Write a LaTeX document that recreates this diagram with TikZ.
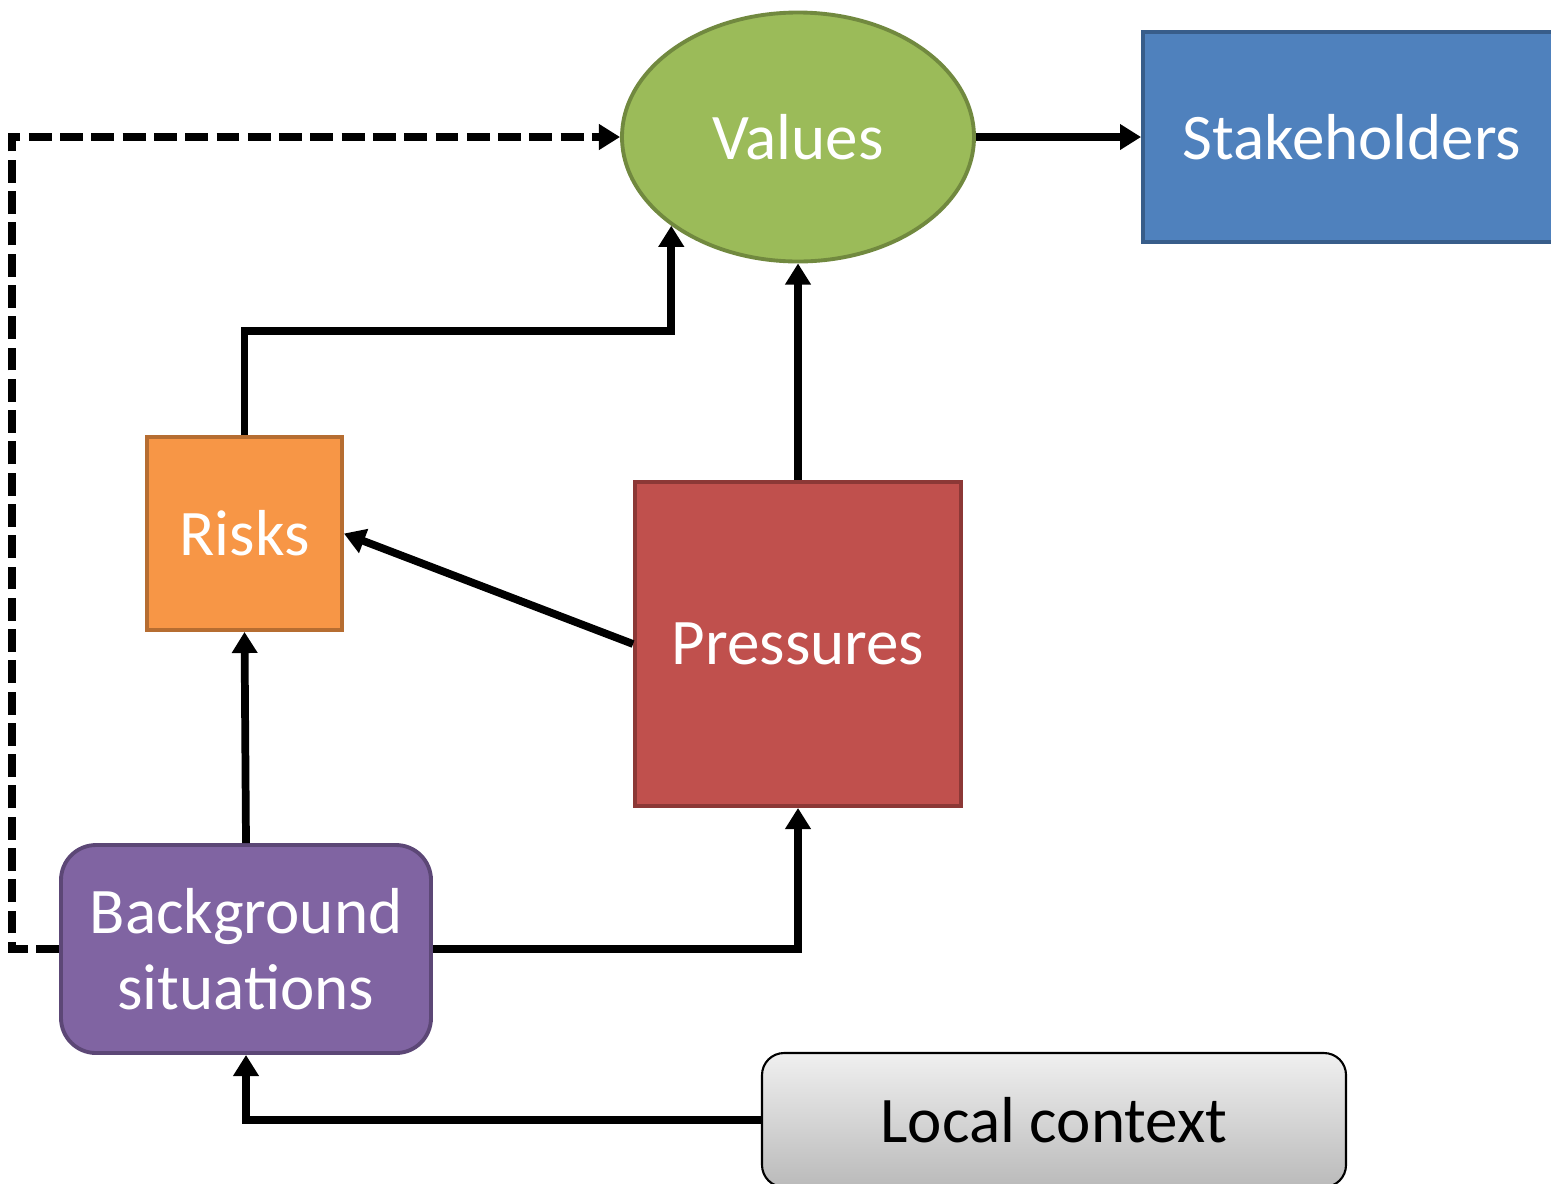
\documentclass[tikz,border=0pt]{standalone}
\usepackage{fontspec}
\setmainfont{Carlito}
\usepackage{tikz}
\usetikzlibrary{arrows.meta,positioning,shapes.geometric}
\definecolor{valuefill}{HTML}{9BBB59}
\definecolor{valueline}{HTML}{71893F}
\definecolor{stakefill}{HTML}{4F81BD}
\definecolor{stakeline}{HTML}{385D8A}
\definecolor{riskfill}{HTML}{F79646}
\definecolor{riskline}{HTML}{B66D31}
\definecolor{pressfill}{HTML}{C0504D}
\definecolor{pressline}{HTML}{8C3836}
\definecolor{backfill}{HTML}{8064A2}
\definecolor{backline}{HTML}{5C4776}
\tikzset{blockbox/.style={draw,rectangle,line width=1.1pt,text=white,align=center},
    valuebubble/.style={draw,ellipse,line width=1.1pt,text=white,fill=valuefill,draw=valueline},
    link/.style={-{Triangle[length=6pt,width=7pt]},line width=2.2pt},
    dashlink/.style={link,dash pattern=on 6.5pt off 2.4pt},
    bigtext/.style={font=\fontsize{18.5}{21.5}\selectfont}
}

\begin{document}
\begin{tikzpicture}[bigtext]

\useasboundingbox (0,0) rectangle (15.51,-11.83);

\node (values) [valuebubble,minimum width=3.52cm,minimum height=2.49cm] at (7.98,-1.37) {Values};
\node (stake) [blockbox,fill=stakefill,draw=stakeline,minimum width=4.18cm,minimum height=2.10cm] at (13.52,-1.37) {Stakeholders};
\node (risks) [blockbox,fill=riskfill,draw=riskline,minimum width=1.95cm,minimum height=1.93cm] at (2.445,-5.335) {Risks};
\node (press) [blockbox,fill=pressfill,draw=pressline,minimum width=3.26cm,minimum height=3.24cm] at (7.98,-6.44) {Pressures};
\node (backg) [blockbox,fill=backfill,draw=backline,rounded corners=0.35cm,minimum width=3.70cm,minimum height=2.08cm] at (2.46,-9.49) {Background\\situations};
\node (local) [draw,rectangle,line width=0.6pt,rounded corners=0.22cm,top color=black!6,bottom color=black!27,minimum width=5.84cm,minimum height=1.34cm] at (10.54,-11.20) {Local context};

\coordinate (vin) at (values.215.5);

\draw [link] (values) -- (stake);
\draw [dashlink] (backg.west) -- ++(-0.47,0) |- (values.west);
\draw [link] (risks.north) |- ([yshift=-1.05cm]vin) -- (vin);
\draw [link] (press) -- (values);
\draw [link] (press.west) -- (risks.east);
\draw [link] (backg.north) -- (risks.south);
\draw [link] (backg.east) -| (press.south);
\draw [link] (local.west) -| (backg.south);

\end{tikzpicture}
\end{document}
